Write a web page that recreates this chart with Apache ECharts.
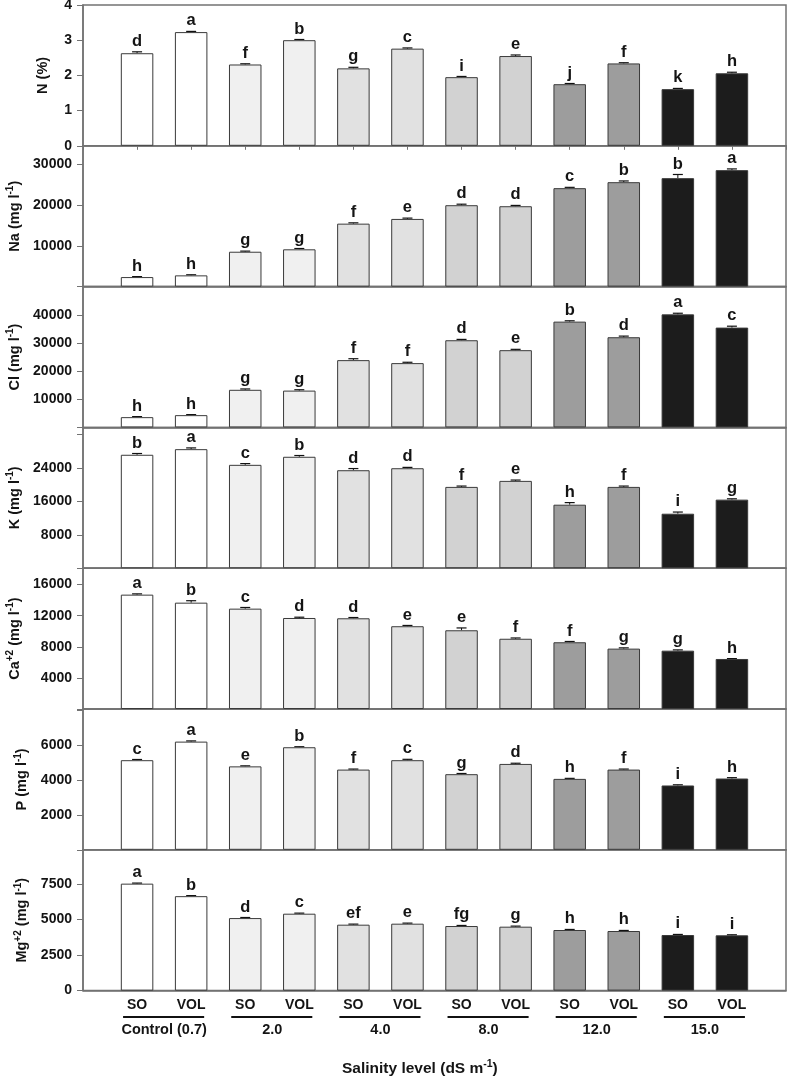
<!DOCTYPE html>
<html>
<head>
<meta charset="utf-8">
<script src="https://cdn.jsdelivr.net/npm/echarts@6/dist/echarts.min.js"></script>
<style>
html,body{margin:0;padding:0;background:#fff;}
#chart{width:787px;height:1079px;}
</style>
</head>
<body>
<div id="chart"></div>
<script>
// ---------- data ----------
const groups = ['Control (0.7)', '2.0', '4.0', '8.0', '12.0', '15.0'];
const treatments = ['SO', 'VOL'];
const groupColors = ['#ffffff', '#f0f0f0', '#e1e1e1', '#d2d2d2', '#9d9d9d', '#1c1c1c'];

const nValues  = [2.63, 3.23, 2.31, 3.00, 2.20, 2.76, 1.95, 2.55, 1.75, 2.34, 1.61, 2.06];
const nErr     = [0.04, 0.02, 0.02, 0.02, 0.03, 0.02, 0.02, 0.03, 0.02, 0.02, 0.02, 0.03];
const nLetters = ['d','a','f','b','g','c','i','e','j','f','k','h'];

const naValues  = [2340, 2760, 8570, 9160, 15470, 16630, 20000, 19750, 24190, 25660, 26650, 28620];
const naErr     = [120, 150, 150, 200, 200, 200, 250, 200, 200, 300, 900, 300];
const naLetters = ['h','h','g','g','f','e','d','d','c','b','b','a'];

const clValues  = [3640, 4350, 13350, 13070, 23890, 22830, 30950, 27420, 37560, 32020, 40140, 35440];
const clErr     = [200, 200, 300, 300, 500, 300, 300, 300, 300, 400, 400, 500];
const clLetters = ['h','h','g','g','f','f','d','e','b','d','a','c'];

const kValues  = [27150, 28490, 24740, 26670, 23450, 23930, 19460, 20900, 15200, 19460, 13040, 16410];
const kErr     = [300, 300, 300, 300, 400, 200, 200, 200, 500, 200, 400, 200];
const kLetters = ['b','a','c','b','d','d','f','e','h','f','i','g'];

const caValues  = [14700, 13670, 12900, 11700, 11660, 10640, 10120, 9030, 8580, 7760, 7500, 6430];
const caErr     = [100, 250, 150, 100, 100, 100, 300, 100, 100, 100, 100, 50];
const caLetters = ['a','b','c','d','d','e','e','f','f','g','g','h'];

const pValues  = [5155, 6224, 4800, 5900, 4615, 5155, 4350, 4940, 4080, 4615, 3700, 4100];
const pErr     = [40, 40, 30, 30, 30, 50, 40, 40, 30, 30, 40, 50];
const pLetters = ['c','a','e','b','f','c','g','d','h','f','i','h'];

const mgValues  = [7520, 6640, 5100, 5407, 4635, 4705, 4541, 4494, 4260, 4190, 3909, 3886];
const mgErr     = [40, 40, 40, 40, 40, 40, 40, 40, 40, 40, 40, 40];
const mgLetters = ['a','b','d','c','ef','e','fg','g','h','h','i','i'];

const nTicks  = [0, 1, 2, 3, 4];
const naTicks = [10000, 20000, 30000];
const clTicks = [10000, 20000, 30000, 40000];
const kTicks  = [8000, 16000, 24000];
const caTicks = [4000, 8000, 12000, 16000];
const pTicks  = [2000, 4000, 6000];
const mgTicks = [0, 2500, 5000, 7500];

const xTitle = 'Salinity level (dS m{sup|-1})';

// ---------- panel definitions ----------
const panels = [
  {name: 'N (%)', values: nValues, err: nErr, letters: nLetters, ticks: nTicks, max: 4, interval: 1, gap: 33, xticks: true},
  {name: 'Na (mg l{sup|-1})', values: naValues, err: naErr, letters: naLetters, ticks: naTicks, max: 34600, interval: 10000, gap: 46},
  {name: 'Cl (mg l{sup|-1})', values: clValues, err: clErr, letters: clLetters, ticks: clTicks, max: 50000, interval: 10000, gap: 46},
  {name: 'K (mg l{sup|-1})', values: kValues, err: kErr, letters: kLetters, ticks: kTicks, max: 33700, interval: 8000, gap: 46},
  {name: 'Ca{sup|+2} (mg l{sup|-1})', values: caValues, err: caErr, letters: caLetters, ticks: caTicks, max: 18100, interval: 4000, gap: 46},
  {name: 'P (mg l{sup|-1})', values: pValues, err: pErr, letters: pLetters, ticks: pTicks, max: 8100, interval: 2000, gap: 46},
  {name: 'Mg{sup|+2} (mg l{sup|-1})', values: mgValues, err: mgErr, letters: mgLetters, ticks: mgTicks, max: 9900, interval: 2500, gap: 46}
];

const FONT = 'Liberation Sans, Arial, Helvetica, sans-serif';
const AXIS_COLOR = '#737373';
const TEXT_COLOR = '#141414';
const LEFT = 83, RIGHT = 1, TOP0 = 5, PH = 140.8;

const supStyle = {fontFamily: FONT, fontSize: 10, fontWeight: 'bold', color: TEXT_COLOR, padding: [0, 0, 9, 0]};

const grid = [], xAxis = [], yAxis = [], series = [];

panels.forEach((p, i) => {
  grid.push({left: LEFT, right: RIGHT, top: TOP0 + i * PH, height: PH, show: true,
    borderColor: AXIS_COLOR, borderWidth: 1.5, containLabel: false, outerBoundsMode: 'none'});
  xAxis.push({type: 'value', gridIndex: i, min: 0, max: 13, interval: 1,
    axisLine: {show: true, onZero: false, lineStyle: {color: AXIS_COLOR, width: 1.5}},
    axisTick: {show: !!p.xticks, inside: false, length: 4, lineStyle: {color: AXIS_COLOR, width: 1}},
    axisLabel: {show: false}, splitLine: {show: false}});
  yAxis.push({type: 'value', gridIndex: i, min: 0, max: p.max, interval: p.interval,
    name: p.name, nameLocation: 'middle', nameRotate: 90, nameGap: p.gap,
    nameTextStyle: {fontFamily: FONT, fontSize: 14.5, fontWeight: 'bold', color: TEXT_COLOR,
      rich: {sup: supStyle}},
    axisLine: {show: true, lineStyle: {color: AXIS_COLOR, width: 1.5}},
    axisTick: {show: true, inside: false, length: 6, lineStyle: {color: AXIS_COLOR, width: 1}},
    axisLabel: {show: true, margin: 11, fontFamily: FONT, fontSize: 14, fontWeight: 'bold', color: TEXT_COLOR,
      showMinLabel: true, showMaxLabel: true,
      formatter: (v) => p.ticks.indexOf(v) >= 0 ? String(v) : ''},
    splitLine: {show: false}});

  series.push({type: 'bar', xAxisIndex: i, yAxisIndex: i, barWidth: 32.5, silent: true,
    data: p.values.map((v, j) => ({value: [j + 1, v],
      itemStyle: {color: groupColors[Math.floor(j / 2)], borderColor: '#3a3a3a', borderWidth: 1}})),
    animation: false});

  series.push({type: 'custom', xAxisIndex: i, yAxisIndex: i, silent: true, clip: false, animation: false,
    data: p.values.map((v, j) => [j + 1, v, p.err[j], p.letters[j]]),
    renderItem: (params, api) => {
      const x = api.value(0), v = api.value(1), e = api.value(2);
      const letter = p.letters[params.dataIndex];
      const p0 = api.coord([x, v]);
      const p1 = api.coord([x, v + e]);
      return {type: 'group', children: [
        {type: 'line', shape: {x1: p0[0], y1: p0[1], x2: p1[0], y2: p1[1]}, style: {stroke: '#111', lineWidth: 1}},
        {type: 'line', shape: {x1: p1[0] - 5, y1: p1[1], x2: p1[0] + 5, y2: p1[1]}, style: {stroke: '#111', lineWidth: 1.2}},
        {type: 'text', x: p1[0], y: p1[1] - 10.5, style: {text: letter, fill: TEXT_COLOR, font: 'bold 16.5px ' + FONT,
          textAlign: 'center', textVerticalAlign: 'middle'}}
      ]};
    }});
});

// bottom group labels (on last panel)
const last = panels.length - 1;
series.push({type: 'custom', xAxisIndex: last, yAxisIndex: last, silent: true, clip: false, animation: false,
  data: groups.map((g, k) => [2 * k + 1.5, 0]),
  renderItem: (params, api) => {
    const c = api.value(0);
    const pL = api.coord([c - 0.5, 0]);
    const pR = api.coord([c + 0.5, 0]);
    const base = pL[1];
    const font = 'bold 14px ' + FONT;
    return {type: 'group', children: [
      {type: 'text', x: pL[0], y: base + 15, style: {text: treatments[0], fill: TEXT_COLOR, font: font, textAlign: 'center', textVerticalAlign: 'middle'}},
      {type: 'text', x: pR[0], y: base + 15, style: {text: treatments[1], fill: TEXT_COLOR, font: font, textAlign: 'center', textVerticalAlign: 'middle'}},
      {type: 'line', shape: {x1: pL[0] - 14, y1: base + 26.5, x2: pR[0] + 13, y2: base + 26.5}, style: {stroke: '#111', lineWidth: 2}},
      {type: 'text', x: (pL[0] + pR[0]) / 2, y: base + 39, style: {text: groups[params.dataIndex], fill: TEXT_COLOR, font: 'bold 14.5px ' + FONT, textAlign: 'center', textVerticalAlign: 'middle'}}
    ]};
  }});

const option = {
  backgroundColor: '#ffffff',
  animation: false,
  grid: grid, xAxis: xAxis, yAxis: yAxis, series: series,
  graphic: [{type: 'text', left: 342, top: 1059, silent: true,
    style: {text: xTitle, fill: TEXT_COLOR, font: 'bold 15.5px ' + FONT,
      rich: {sup: {fontFamily: FONT, fontSize: 10.5, fontWeight: 'bold', fill: TEXT_COLOR, padding: [0, 0, 9, 0]}}}}]
};

const chart = echarts.init(document.getElementById('chart'), null, {renderer: 'canvas'});
chart.setOption(option);
</script>
</body>
</html>
